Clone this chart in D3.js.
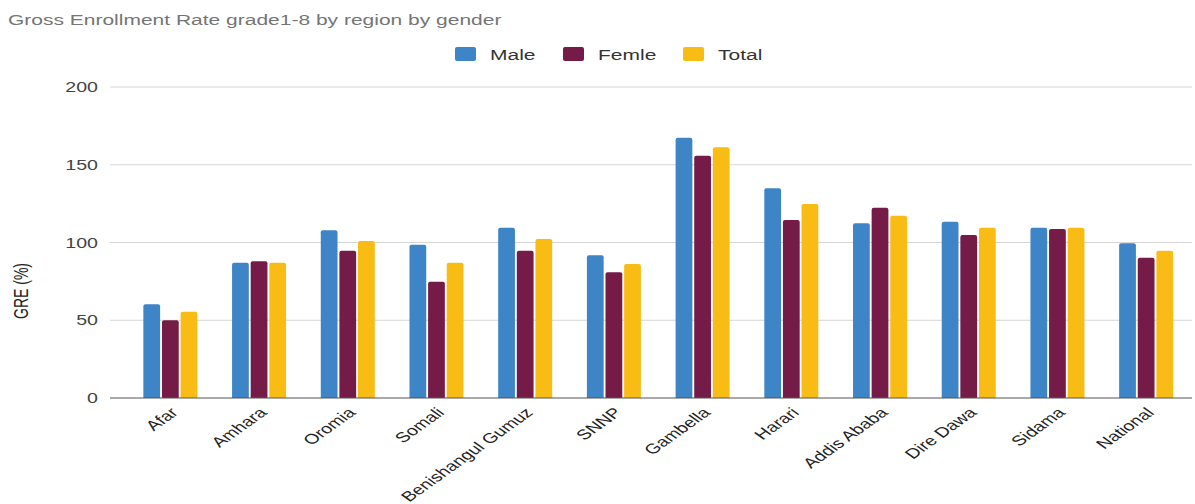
<!DOCTYPE html>
<html>
<head>
<meta charset="utf-8">
<script src="https://cdn.jsdelivr.net/npm/d3@7"></script>
<style>
body { margin: 0; background: #fff; }
svg { display: block; font-family: "Liberation Sans", Arial, sans-serif; }
</style>
</head>
<body>
<svg id="chart" width="1195" height="504"></svg>
<script>
const categories = ["Afar", "Amhara", "Oromia", "Somali", "Benishangul Gumuz", "SNNP", "Gambella", "Harari", "Addis Ababa", "Dire Dawa", "Sidama", "National"];
const seriesNames = ["Male", "Femle", "Total"];
const male   = [60.3, 87.0, 107.8, 98.6, 109.5, 91.8, 167.4, 134.9, 112.4, 113.4, 109.5, 99.5];
const female = [50.0, 87.9, 94.7, 74.8, 94.7, 80.8, 155.8, 114.5, 122.4, 104.8, 108.7, 90.2];
const total  = [55.5, 87.0, 101.0, 87.0, 102.2, 86.2, 161.2, 124.8, 117.2, 109.5, 109.5, 94.7];
const yTicks = [0, 50, 100, 150, 200];
const colors = ["#3d85c6", "#741b47", "#f9bc15"];

const SX = 1.4; // horizontal stretch of the reference text
const svg = d3.select("#chart");
const series = [male, female, total];

const x = d3.scaleBand().domain(categories).range([126, 1190.5]).paddingInner(0).paddingOuter(0);
const x1 = d3.scaleBand().domain(seriesNames).range([0, 54]).paddingInner(0.1);
const xOff = (x.bandwidth() - 54) / 2;
const y = d3.scaleLinear().domain([0, 200]).range([398, 87]);

// title
svg.append("text").attr("transform", `translate(8,25) scale(${SX},1)`).attr("fill", "#757575")
  .style("font-size", "15px").text("Gross Enrollment Rate grade1-8 by region by gender");

// gridlines
svg.append("g").selectAll("line").data(yTicks.filter(d => d !== 0)).join("line")
  .attr("x1", 110).attr("x2", 1192)
  .attr("y1", d => y(d)).attr("y2", d => y(d))
  .attr("stroke", "#d6d6d6").attr("stroke-width", 1);

// y axis labels
const yAxis = d3.axisLeft(y).tickValues(yTicks).tickSize(0).tickPadding(0);
const yg = svg.append("g").call(yAxis);
yg.select(".domain").remove();
yg.selectAll(".tick").attr("transform", d => `translate(98,${y(d)}) scale(${SX},1)`);
yg.selectAll("text").attr("fill", "#444").style("font-size", "14px")
  .style("font-family", "'Liberation Sans', Arial, sans-serif").attr("x", 0).attr("dy", "0.36em");

// y axis title
svg.append("text").attr("transform", `translate(28,291) scale(${SX},1) rotate(-90)`)
  .attr("text-anchor", "middle").attr("fill", "#222").style("font-size", "14px").text("GRE (%)");

// bars
const groups = svg.append("g").selectAll("g").data(categories).join("g")
  .attr("transform", d => `translate(${x(d) + xOff},0)`);
groups.selectAll("path").data((d, i) => seriesNames.map((s, j) => ({s, j, v: series[j][i]}))).join("path")
  .attr("fill", d => colors[d.j])
  .attr("d", d => {
    const x0 = x1(d.s), w = x1.bandwidth(), y0 = y(d.v), yb = y(0), r = 2;
    return `M${x0},${yb}V${y0 + r}Q${x0},${y0} ${x0 + r},${y0}H${x0 + w - r}Q${x0 + w},${y0} ${x0 + w},${y0 + r}V${yb}Z`;
  });

// baseline
svg.append("line").attr("x1", 110).attr("x2", 1192).attr("y1", y(0)).attr("y2", y(0))
  .attr("stroke", "#555").attr("stroke-width", 1.2);

// x axis labels
const xAxis = d3.axisBottom(x).tickSize(0).tickPadding(0);
const xg = svg.append("g").call(xAxis);
xg.select(".domain").remove();
xg.selectAll(".tick").attr("transform", d => `translate(${x(d) + x.bandwidth() / 2 + 4},${y(0) + 12}) scale(${SX},1) rotate(-45)`);
xg.selectAll("text")
  .attr("fill", "#222").style("font-size", "14px")
  .style("font-family", "'Liberation Sans', Arial, sans-serif")
  .attr("text-anchor", "end").attr("y", 0).attr("dy", "0.35em");

// legend
const legendX = [455, 563, 683];
const lg = svg.append("g").selectAll("g").data(seriesNames).join("g")
  .attr("transform", (d, i) => `translate(${legendX[i]},47)`);
lg.append("rect").attr("width", 21).attr("height", 14).attr("rx", 2).attr("fill", (d, i) => colors[i]);
lg.append("text").attr("transform", `translate(35,13) scale(${SX},1)`).attr("fill", "#333").style("font-size", "15px").text(d => d);
</script>
</body>
</html>
